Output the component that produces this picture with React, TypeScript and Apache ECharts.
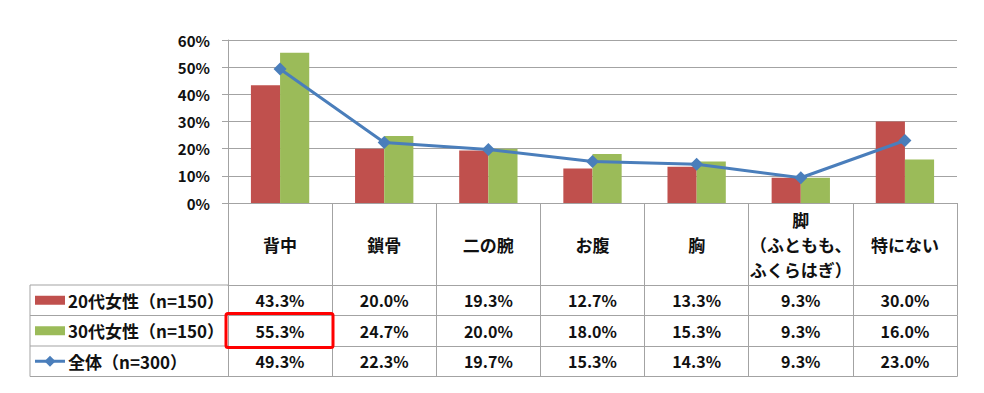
import React, { useEffect, useRef } from "react";
import * as echarts from "echarts";

const categories = ["背中", "鎖骨", "二の腕", "お腹", "胸", "脚\n（ふともも、\nふくらはぎ）", "特にない"];
const seriesNames = ["20代女性（n=150）", "30代女性（n=150）", "全体（n=300）"];
const women20 = [43.3, 20.0, 19.3, 12.7, 13.3, 9.3, 30.0];
const women30 = [55.3, 24.7, 20.0, 18.0, 15.3, 9.3, 16.0];
const total = [49.3, 22.3, 19.7, 15.3, 14.3, 9.3, 23.0];
const yTicks = [0, 10, 20, 30, 40, 50, 60];

const RED = "#C0504D";
const GREEN = "#9BBB59";
const BLUE = "#4A7EBB";
const GRID = "#A3A3A3";
const FONT = "'Noto Sans CJK JP', 'Noto Sans', sans-serif";

const GL = 228, GR = 957, GT = 40, GB = 203;
const H = 82, R = 30.5;
const TL = 30;

export default function App() {
  const ref = useRef<HTMLDivElement>(null);
  useEffect(() => {
    if (!ref.current) return;
    const chart = echarts.init(ref.current, null, { renderer: "svg" });
    const rows = [women20, women30, total];
    const xAxes: any[] = [
      {
        type: "category",
        data: categories,
        position: "bottom",
        gridIndex: 0,
        offset: 0,
        axisLine: { show: true, lineStyle: { color: GRID, width: 1 } },
        axisTick: { show: true, length: H, lineStyle: { color: GRID, width: 1 } },
        axisLabel: {
          margin: H / 2,
          verticalAlign: "middle",
          interval: 0,
          fontFamily: FONT,
          fontWeight: "bold",
          fontSize: 17,
          lineHeight: 25,
          color: "#111",
        },
      },
    ];
    rows.forEach((row, i) => {
      xAxes.push({
        type: "category",
        data: categories,
        position: "bottom",
        gridIndex: 0,
        offset: H + i * R,
        axisLine: { show: true, lineStyle: { color: GRID, width: 1 } },
        axisTick: { show: true, length: R, lineStyle: { color: GRID, width: 1 } },
        axisLabel: {
          margin: R / 2,
          verticalAlign: "middle",
          interval: 0,
          fontFamily: FONT,
          fontWeight: "bold",
          fontSize: 16,
          color: "#111",
          formatter: (_v: string, idx: number) => row[idx].toFixed(1) + "%",
        },
      });
    });
    xAxes.push({
      type: "category",
      data: categories,
      position: "bottom",
      gridIndex: 0,
      offset: H + 3 * R,
      axisLine: { show: true, lineStyle: { color: GRID, width: 1 } },
      axisTick: { show: false },
      axisLabel: { show: false },
    });

    const rowY = (i: number) => GB + H + i * R;
    const graphics: any[] = [];
    for (let i = 0; i <= 3; i++) {
      graphics.push({
        type: "line",
        shape: { x1: TL, y1: rowY(i), x2: GL, y2: rowY(i) },
        style: { stroke: GRID, lineWidth: 1 },
      });
    }
    graphics.push({
      type: "line",
      shape: { x1: TL, y1: rowY(0), x2: TL, y2: rowY(3) },
      style: { stroke: GRID, lineWidth: 1 },
    });
    const keyColors = [RED, GREEN];
    [0, 1].forEach((i) => {
      const cy = rowY(i) + R / 2;
      graphics.push({
        type: "rect",
        shape: { x: 35, y: cy - 4.5, width: 30, height: 9 },
        style: { fill: keyColors[i] },
      });
    });
    {
      const cy = rowY(2) + R / 2;
      graphics.push({
        type: "line",
        shape: { x1: 35, y1: cy, x2: 65, y2: cy },
        style: { stroke: BLUE, lineWidth: 3 },
      });
      graphics.push({
        type: "polygon",
        shape: { points: [[50, cy - 5.5], [55.5, cy], [50, cy + 5.5], [44.5, cy]] },
        style: { fill: BLUE },
      });
    }
    seriesNames.forEach((name, i) => {
      graphics.push({
        type: "text",
        x: 68,
        y: rowY(i) + R / 2,
        style: {
          text: name,
          fontFamily: FONT,
          fontWeight: "bold",
          fontSize: 17,
          fill: "#111",
          verticalAlign: "middle",
          align: "left",
        },
      });
    });
    graphics.push({
      type: "rect",
      shape: { x: 226, y: rowY(1) - 2, width: 107, height: R + 3.5, r: 2 },
      style: { fill: "none", stroke: "#FF0000", lineWidth: 3 },
      z: 100,
    });

    chart.setOption({
      animation: false,
      backgroundColor: "#ffffff",
      grid: { left: GL, right: 984 - GR, top: GT, bottom: 393 - GB, containLabel: false },
      xAxis: xAxes,
      yAxis: {
        type: "value",
        min: yTicks[0],
        max: yTicks[yTicks.length - 1],
        interval: 10,
        axisLine: { show: true, lineStyle: { color: GRID, width: 1 } },
        axisTick: { show: true, length: 6, lineStyle: { color: GRID } },
        splitLine: { show: true, lineStyle: { color: GRID, width: 1 } },
        axisLabel: {
          margin: 18,
          fontFamily: FONT,
          fontWeight: "bold",
          fontSize: 15,
          color: "#111",
          formatter: (v: number) => v + "%",
        },
      },
      graphic: graphics,
      series: [
        {
          name: seriesNames[0],
          type: "bar",
          data: women20,
          itemStyle: { color: RED },
          barGap: "0%",
          barCategoryGap: "44%",
          xAxisIndex: 0,
        },
        {
          name: seriesNames[1],
          type: "bar",
          data: women30,
          itemStyle: { color: GREEN },
          barGap: "0%",
          barCategoryGap: "44%",
          xAxisIndex: 0,
        },
        {
          name: seriesNames[2],
          type: "line",
          data: total,
          xAxisIndex: 0,
          symbol: "diamond",
          symbolSize: 13,
          lineStyle: { color: BLUE, width: 3 },
          itemStyle: { color: BLUE },
          z: 10,
        },
      ],
    });
    return () => chart.dispose();
  }, []);
  return (
    <div
      ref={ref}
      style={{ position: "fixed", left: 0, top: 0, width: 984, height: 393, background: "#fff" }}
    />
  );
}
